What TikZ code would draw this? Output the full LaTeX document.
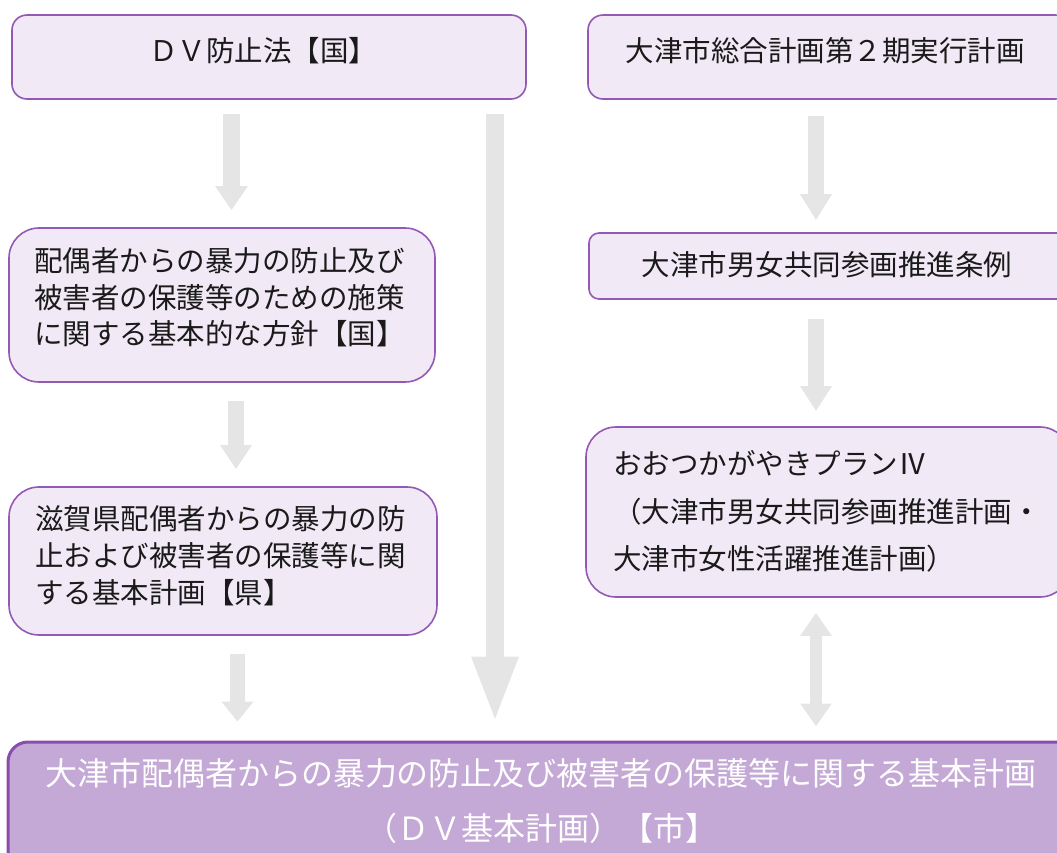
\documentclass[tikz,border=0pt]{standalone}
\usepackage{fontspec}
\newfontfamily\jpfont{Noto Sans CJK JP}
\usetikzlibrary{arrows.meta}
\definecolor{boxfill}{HTML}{F1E9F5}
\definecolor{boxline}{HTML}{9459B4}
\definecolor{mainfill}{HTML}{C4A8D5}
\definecolor{mainline}{HTML}{8A4DAE}
\definecolor{arrowgray}{HTML}{E5E5E5}
\definecolor{txt}{HTML}{1A1A1A}
\begin{document}
\begin{tikzpicture}[x=1pt,y=-1pt,
  box/.style={draw=boxline, fill=boxfill, line width=1.6pt, rectangle, inner sep=0pt},
  mainbox/.style={draw=mainline, fill=mainfill, line width=3pt, rectangle, rounded corners=20pt, inner sep=0pt},
  txtline/.style={font=\jpfont\fontsize{28.5}{34}\selectfont, text=txt, inner sep=0pt},
  maintxt/.style={font=\jpfont\fontsize{32}{38}\selectfont, text=white, inner sep=0pt},
  garrow/.style={draw=arrowgray, line width=#1}
]
\useasboundingbox (0,0) rectangle (1057,852);
\clip (0,0) rectangle (1057,852);

% boxes
\node[box, rounded corners=15pt, minimum width=514pt, minimum height=84pt] (boxA) at (269,57) {};
\node[box, rounded corners=15pt, minimum width=482pt, minimum height=84pt] (boxB) at (829,57) {};
\node[box, rounded corners=30pt, minimum width=426pt, minimum height=154pt] (boxC) at (222,305) {};
\node[box, rounded corners=30pt, minimum width=428pt, minimum height=148pt] (boxD) at (223,561) {};
\node[box, rounded corners=10pt, minimum width=481pt, minimum height=66pt] (boxE) at (829.5,266) {};
\node[box, rounded corners=30pt, minimum width=484pt, minimum height=170pt] (boxF) at (828,512) {};
\node[mainbox, minimum width=1067pt, minimum height=128pt] (boxG) at (541.5,806) {};

% texts
\node[txtline, anchor=base] (tA) at (263,61) {ＤＶ防止法【国】};
\node[txtline, anchor=base] (tB) at (825,61) {大津市総合計画第２期実行計画};
\node[txtline, anchor=base west] (tC1) at (34,271) {配偶者からの暴力の防止及び};
\node[txtline, anchor=base west] (tC2) at (34,308) {被害者の保護等のための施策};
\node[txtline, anchor=base west] (tC3) at (34,344) {に関する基本的な方針【国】};
\node[txtline, anchor=base west] (tD1) at (35,529) {滋賀県配偶者からの暴力の防};
\node[txtline, anchor=base west] (tD2) at (35,566) {止および被害者の保護等に関};
\node[txtline, anchor=base west] (tD3) at (35,603) {する基本計画【県】};
\node[txtline, anchor=base] (tE) at (827,275) {大津市男女共同参画推進条例};
\node[txtline, anchor=base west] (tF1) at (613,474) {おおつかがやきプランⅣ};
\node[txtline, anchor=base west] (tF2) at (613,522) {（大津市男女共同参画推進計画・};
\node[txtline, anchor=base west] (tF3) at (613,569) {大津市女性活躍推進計画）};
\node[maintxt, anchor=base] (tG1) at (541,785) {大津市配偶者からの暴力の防止及び被害者の保護等に関する基本計画};
\node[maintxt, anchor=base] (tG2) at (541,840) {（ＤＶ基本計画）【市】};

% arrow x positions
\coordinate (xAC) at (231.5,0);
\coordinate (xCD) at (236,0);
\coordinate (xDG) at (237.5,0);
\coordinate (xBig) at (495,0);
\coordinate (xR) at (816,0);

% arrows
\draw[garrow=17pt, -{Triangle[length=24pt,width=31pt]}, shorten <=14pt, shorten >=17pt]
  (boxA.south -| xAC) -- (boxC.north -| xAC);
\draw[garrow=16pt, -{Triangle[length=24pt,width=30pt]}, shorten <=18pt, shorten >=17pt]
  (boxC.south -| xCD) -- (boxD.north -| xCD);
\draw[garrow=15pt, -{Triangle[length=20pt,width=31pt]}, shorten <=18pt, shorten >=19pt]
  (boxD.south -| xDG) -- (boxG.north -| xDG);
\draw[garrow=18pt, -{Triangle[length=67pt,width=42pt]}, shorten <=14pt, shorten >=17pt]
  (boxA.south -| xBig) -- (boxG.north -| xBig);
\draw[garrow=16pt, -{Triangle[length=26pt,width=30pt]}, shorten <=16pt, shorten >=12pt]
  (boxB.south -| xR) -- (boxE.north -| xR);
\draw[garrow=16pt, -{Triangle[length=25pt,width=30pt]}, shorten <=19pt, shorten >=15pt]
  (boxE.south -| xR) -- (boxF.north -| xR);
\draw[garrow=12pt, {Triangle[length=23pt,width=30pt]}-{Triangle[length=23pt,width=30pt]}, shorten <=15pt, shorten >=14pt]
  (boxF.south -| xR) -- (boxG.north -| xR);
\end{tikzpicture}
\end{document}
